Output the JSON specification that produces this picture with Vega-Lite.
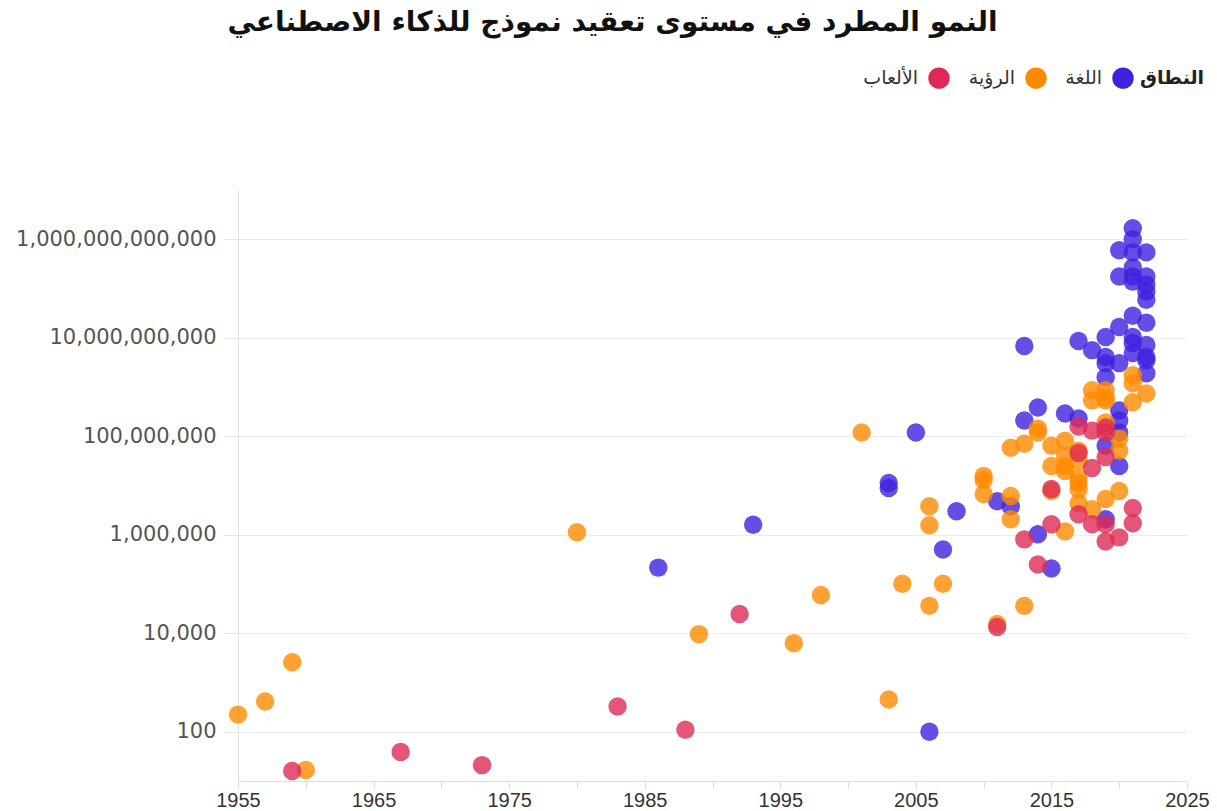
{
  "$schema": "https://vega.github.io/schema/vega-lite/v6.json",
  "autosize": {"type": "none"},
  "padding": {"left": 238, "top": 190, "right": 30, "bottom": 30},
  "width": 949,
  "height": 591,
  "background": "white",
  "title": {
    "text": "النمو المطرد في مستوى تعقيد نموذج للذكاء الاصطناعي",
    "anchor": "middle",
    "dx": -100,
    "offset": 30,
    "font": "DejaVu Sans",
    "fontSize": 28,
    "fontWeight": "bold",
    "color": "#111111"
  },
  "data": {
    "values": [
      {"year": 1986, "params": 215000, "domain": "اللغة"},
      {"year": 1993, "params": 1600000, "domain": "اللغة"},
      {"year": 2003, "params": 11200000, "domain": "اللغة"},
      {"year": 2003, "params": 8900000, "domain": "اللغة"},
      {"year": 2005, "params": 119000000, "domain": "اللغة"},
      {"year": 2006, "params": 100, "domain": "اللغة"},
      {"year": 2007, "params": 500000, "domain": "اللغة"},
      {"year": 2008, "params": 3000000, "domain": "اللغة"},
      {"year": 2011, "params": 4800000, "domain": "اللغة"},
      {"year": 2012, "params": 3800000, "domain": "اللغة"},
      {"year": 2013, "params": 6800000000, "domain": "اللغة"},
      {"year": 2013, "params": 208000000, "domain": "اللغة"},
      {"year": 2014, "params": 385000000, "domain": "اللغة"},
      {"year": 2014, "params": 1020000, "domain": "اللغة"},
      {"year": 2015, "params": 206000, "domain": "اللغة"},
      {"year": 2016, "params": 290000000, "domain": "اللغة"},
      {"year": 2017, "params": 8600000000, "domain": "اللغة"},
      {"year": 2017, "params": 229000000, "domain": "اللغة"},
      {"year": 2018, "params": 5600000000, "domain": "اللغة"},
      {"year": 2019, "params": 10400000000, "domain": "اللغة"},
      {"year": 2019, "params": 4050000000, "domain": "اللغة"},
      {"year": 2019, "params": 3050000000, "domain": "اللغة"},
      {"year": 2019, "params": 1580000000, "domain": "اللغة"},
      {"year": 2019, "params": 2070000, "domain": "اللغة"},
      {"year": 2019, "params": 64000000, "domain": "اللغة"},
      {"year": 2020, "params": 16600000000, "domain": "اللغة"},
      {"year": 2020, "params": 175000000000, "domain": "اللغة"},
      {"year": 2020, "params": 596000000000, "domain": "اللغة"},
      {"year": 2020, "params": 3050000000, "domain": "اللغة"},
      {"year": 2020, "params": 334000000, "domain": "اللغة"},
      {"year": 2020, "params": 208000000, "domain": "اللغة"},
      {"year": 2020, "params": 119000000, "domain": "اللغة"},
      {"year": 2020, "params": 25000000, "domain": "اللغة"},
      {"year": 2021, "params": 1680000000000, "domain": "اللغة"},
      {"year": 2021, "params": 1000000000000, "domain": "اللغة"},
      {"year": 2021, "params": 542000000000, "domain": "اللغة"},
      {"year": 2021, "params": 267000000000, "domain": "اللغة"},
      {"year": 2021, "params": 175000000000, "domain": "اللغة"},
      {"year": 2021, "params": 138000000000, "domain": "اللغة"},
      {"year": 2021, "params": 27900000000, "domain": "اللغة"},
      {"year": 2021, "params": 10400000000, "domain": "اللغة"},
      {"year": 2021, "params": 7830000000, "domain": "اللغة"},
      {"year": 2021, "params": 4900000000, "domain": "اللغة"},
      {"year": 2022, "params": 542000000000, "domain": "اللغة"},
      {"year": 2022, "params": 175000000000, "domain": "اللغة"},
      {"year": 2022, "params": 120000000000, "domain": "اللغة"},
      {"year": 2022, "params": 86500000000, "domain": "اللغة"},
      {"year": 2022, "params": 59300000000, "domain": "اللغة"},
      {"year": 2022, "params": 20100000000, "domain": "اللغة"},
      {"year": 2022, "params": 7130000000, "domain": "اللغة"},
      {"year": 2022, "params": 4050000000, "domain": "اللغة"},
      {"year": 2022, "params": 1900000000, "domain": "اللغة"},
      {"year": 2022, "params": 3500000000, "domain": "اللغة"},
      {"year": 1955, "params": 223, "domain": "الرؤية"},
      {"year": 1957, "params": 410, "domain": "الرؤية"},
      {"year": 1959, "params": 2580, "domain": "الرؤية"},
      {"year": 1960, "params": 16.7, "domain": "الرؤية"},
      {"year": 1980, "params": 1120000, "domain": "الرؤية"},
      {"year": 1989, "params": 9600, "domain": "الرؤية"},
      {"year": 1996, "params": 6300, "domain": "الرؤية"},
      {"year": 1998, "params": 60000, "domain": "الرؤية"},
      {"year": 2001, "params": 119000000, "domain": "الرؤية"},
      {"year": 2003, "params": 451, "domain": "الرؤية"},
      {"year": 2004, "params": 101000, "domain": "الرؤية"},
      {"year": 2006, "params": 36000, "domain": "الرؤية"},
      {"year": 2006, "params": 1560000, "domain": "الرؤية"},
      {"year": 2006, "params": 3800000, "domain": "الرؤية"},
      {"year": 2007, "params": 101000, "domain": "الرؤية"},
      {"year": 2010, "params": 15600000, "domain": "الرؤية"},
      {"year": 2010, "params": 13000000, "domain": "الرؤية"},
      {"year": 2010, "params": 6700000, "domain": "الرؤية"},
      {"year": 2011, "params": 15400, "domain": "الرؤية"},
      {"year": 2012, "params": 58500000, "domain": "الرؤية"},
      {"year": 2012, "params": 6100000, "domain": "الرؤية"},
      {"year": 2012, "params": 2070000, "domain": "الرؤية"},
      {"year": 2013, "params": 36000, "domain": "الرؤية"},
      {"year": 2013, "params": 70600000, "domain": "الرؤية"},
      {"year": 2014, "params": 143000000, "domain": "الرؤية"},
      {"year": 2014, "params": 119000000, "domain": "الرؤية"},
      {"year": 2015, "params": 64000000, "domain": "الرؤية"},
      {"year": 2015, "params": 25000000, "domain": "الرؤية"},
      {"year": 2015, "params": 7700000, "domain": "الرؤية"},
      {"year": 2016, "params": 81000000, "domain": "الرؤية"},
      {"year": 2016, "params": 25000000, "domain": "الرؤية"},
      {"year": 2016, "params": 19800000, "domain": "الرؤية"},
      {"year": 2016, "params": 1170000, "domain": "الرؤية"},
      {"year": 2016, "params": 40000000, "domain": "الرؤية"},
      {"year": 2017, "params": 51000000, "domain": "الرؤية"},
      {"year": 2017, "params": 32000000, "domain": "الرؤية"},
      {"year": 2017, "params": 14200000, "domain": "الرؤية"},
      {"year": 2017, "params": 11200000, "domain": "الرؤية"},
      {"year": 2017, "params": 8500000, "domain": "الرؤية"},
      {"year": 2017, "params": 4400000, "domain": "الرؤية"},
      {"year": 2018, "params": 860000000, "domain": "الرؤية"},
      {"year": 2018, "params": 535000000, "domain": "الرؤية"},
      {"year": 2018, "params": 3300000, "domain": "الرؤية"},
      {"year": 2019, "params": 860000000, "domain": "الرؤية"},
      {"year": 2019, "params": 535000000, "domain": "الرؤية"},
      {"year": 2019, "params": 615000000, "domain": "الرؤية"},
      {"year": 2019, "params": 190000000, "domain": "الرؤية"},
      {"year": 2019, "params": 5300000, "domain": "الرؤية"},
      {"year": 2020, "params": 89000000, "domain": "الرؤية"},
      {"year": 2020, "params": 51000000, "domain": "الرؤية"},
      {"year": 2020, "params": 7700000, "domain": "الرؤية"},
      {"year": 2021, "params": 1730000000, "domain": "الرؤية"},
      {"year": 2021, "params": 1190000000, "domain": "الرؤية"},
      {"year": 2021, "params": 490000000, "domain": "الرؤية"},
      {"year": 2022, "params": 740000000, "domain": "الرؤية"},
      {"year": 1959, "params": 15.9, "domain": "الألعاب"},
      {"year": 1967, "params": 39, "domain": "الألعاب"},
      {"year": 1973, "params": 21, "domain": "الألعاب"},
      {"year": 1983, "params": 325, "domain": "الألعاب"},
      {"year": 1988, "params": 110, "domain": "الألعاب"},
      {"year": 1992, "params": 24700, "domain": "الألعاب"},
      {"year": 2011, "params": 13400, "domain": "الألعاب"},
      {"year": 2013, "params": 805000, "domain": "الألعاب"},
      {"year": 2014, "params": 248000, "domain": "الألعاب"},
      {"year": 2015, "params": 8500000, "domain": "الألعاب"},
      {"year": 2015, "params": 1630000, "domain": "الألعاب"},
      {"year": 2017, "params": 157000000, "domain": "الألعاب"},
      {"year": 2017, "params": 46000000, "domain": "الألعاب"},
      {"year": 2017, "params": 2600000, "domain": "الألعاب"},
      {"year": 2018, "params": 130000000, "domain": "الألعاب"},
      {"year": 2018, "params": 22800000, "domain": "الألعاب"},
      {"year": 2018, "params": 1630000, "domain": "الألعاب"},
      {"year": 2019, "params": 150000000, "domain": "الألعاب"},
      {"year": 2019, "params": 119000000, "domain": "الألعاب"},
      {"year": 2019, "params": 38000000, "domain": "الألعاب"},
      {"year": 2019, "params": 1630000, "domain": "الألعاب"},
      {"year": 2019, "params": 730000, "domain": "الألعاب"},
      {"year": 2020, "params": 885000, "domain": "الألعاب"},
      {"year": 2021, "params": 3500000, "domain": "الألعاب"},
      {"year": 2021, "params": 1710000, "domain": "الألعاب"}
    ]
  },
  "mark": {"type": "circle", "size": 340, "opacity": 0.8},
  "encoding": {
    "x": {
      "field": "year",
      "type": "quantitative",
      "scale": {"domain": [1955, 2025], "nice": false, "zero": false},
      "axis": {
        "title": null,
        "values": [1955, 1960, 1965, 1970, 1975, 1980, 1985, 1990, 1995, 2000, 2005, 2010, 2015, 2020, 2025],
        "labelExpr": "(datum.value - 1955) % 10 == 0 ? format(datum.value, 'd') : ''",
        "grid": false,
        "domainColor": "#e0e0e0",
        "tickColor": "#e0e0e0",
        "tickSize": 8,
        "labelFont": "Liberation Sans",
        "labelFontSize": 20,
        "labelColor": "#333333",
        "labelPadding": 1,
        "labelFlush": false
      }
    },
    "y": {
      "field": "params",
      "type": "quantitative",
      "scale": {"type": "log", "domain": [10, 10000000000000], "nice": false},
      "axis": {
        "title": null,
        "values": [100, 10000, 1000000, 100000000, 10000000000, 1000000000000],
        "format": ",.0f",
        "grid": true,
        "gridColor": "#ececec",
        "domainColor": "#e0e0e0",
        "tickColor": "#e6e6e6",
        "tickSize": 14,
        "labelFont": "DejaVu Sans",
        "labelFontSize": 21,
        "labelColor": "#555555",
        "labelPadding": 8,
        "labelLimit": 400
      }
    },
    "color": {
      "field": "domain",
      "type": "nominal",
      "scale": {
        "domain": ["الألعاب", "الرؤية", "اللغة"],
        "range": ["#dd2a55", "#ff8a00", "#3f22e0"]
      },
      "legend": {
        "title": "النطاق",
        "orient": "none",
        "legendX": 690,
        "legendY": -123,
        "direction": "horizontal",
        "titleOrient": "right",
        "titleFont": "DejaVu Sans",
        "titleFontSize": 19,
        "titleFontWeight": "bold",
        "titleColor": "#222222",
        "titlePadding": 6,
        "labelFont": "DejaVu Sans",
        "labelFontSize": 19,
        "labelColor": "#333333",
        "labelAlign": "right",
        "labelOffset": -32,
        "symbolType": "circle",
        "symbolSize": 460,
        "symbolOpacity": 1,
        "symbolStrokeWidth": 0,
        "columnPadding": 18
      }
    }
  },
  "config": {"view": {"stroke": null}}
}
